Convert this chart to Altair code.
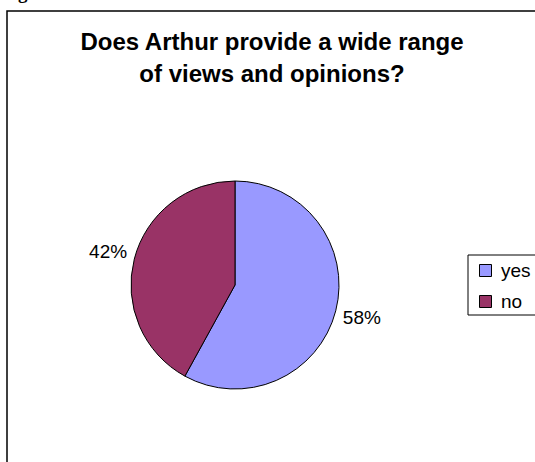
import altair as alt
import pandas as pd

CATEGORIES = ["yes", "no"]
VALUES = [58, 42]
COLORS = ["#9999FF", "#993366"]
TITLE_LINES = ["Does Arthur provide a wide range", "of views and opinions?"]
CAPTION = "Figure"

FONT = "Liberation Sans"

df = pd.DataFrame({"answer": CATEGORIES, "value": VALUES, "order": list(range(len(CATEGORIES)))})
one = alt.Data(values=[{"k": 0}])

frame = alt.Chart(one).mark_rect(filled=False, stroke="black", strokeWidth=1.5).encode(
    x=alt.value(7), y=alt.value(11), x2=alt.value(900), y2=alt.value(900)
)

legend_box = alt.Chart(one).mark_rect(fill="white", stroke="black", strokeWidth=1).encode(
    x=alt.value(468), y=alt.value(255), x2=alt.value(900), y2=alt.value(315)
)

base = alt.Chart(df).encode(
    theta=alt.Theta("value:Q", stack=True),
    order=alt.Order("order:Q"),
)

arcs = base.mark_arc(outerRadius=104, stroke="black", strokeWidth=1).encode(
    x=alt.value(235),
    y=alt.value(285),
    color=alt.Color(
        "answer:N",
        scale=alt.Scale(domain=CATEGORIES, range=COLORS),
        legend=alt.Legend(
            title=None,
            orient="none",
            legendX=476,
            legendY=261,
            symbolType="square",
            symbolSize=144,
            symbolStrokeColor="black",
            symbolStrokeWidth=1,
            symbolOpacity=1,
            labelFontSize=19,
            labelFont=FONT,
            labelColor="black",
            labelOffset=6,
            rowPadding=11,
            padding=0,
        ),
    ),
)

labels = base.transform_calculate(label="datum.value + '%'").mark_text(
    radius=131, fontSize=19, font=FONT, color="black"
).encode(x=alt.value(235), y=alt.value(285), text="label:N")

title_text = alt.Chart(one).mark_text(
    text=TITLE_LINES,
    fontSize=24,
    fontWeight="bold",
    font=FONT,
    color="black",
    baseline="alphabetic",
    align="center",
    lineHeight=32,
).encode(x=alt.value(272), y=alt.value(50))

caption = alt.Chart(one).mark_text(
    text=CAPTION,
    fontSize=19,
    fontWeight="bold",
    font="Liberation Serif",
    color="black",
    baseline="alphabetic",
    align="left",
).encode(x=alt.value(1), y=alt.value(-1))

chart = alt.layer(frame, legend_box, arcs, labels, title_text, caption).properties(
    width=535, height=462, autosize="none", padding=0, background="white"
).configure_view(stroke=None)

chart.save("out.html", embed_options={"renderer": "svg", "actions": False})
